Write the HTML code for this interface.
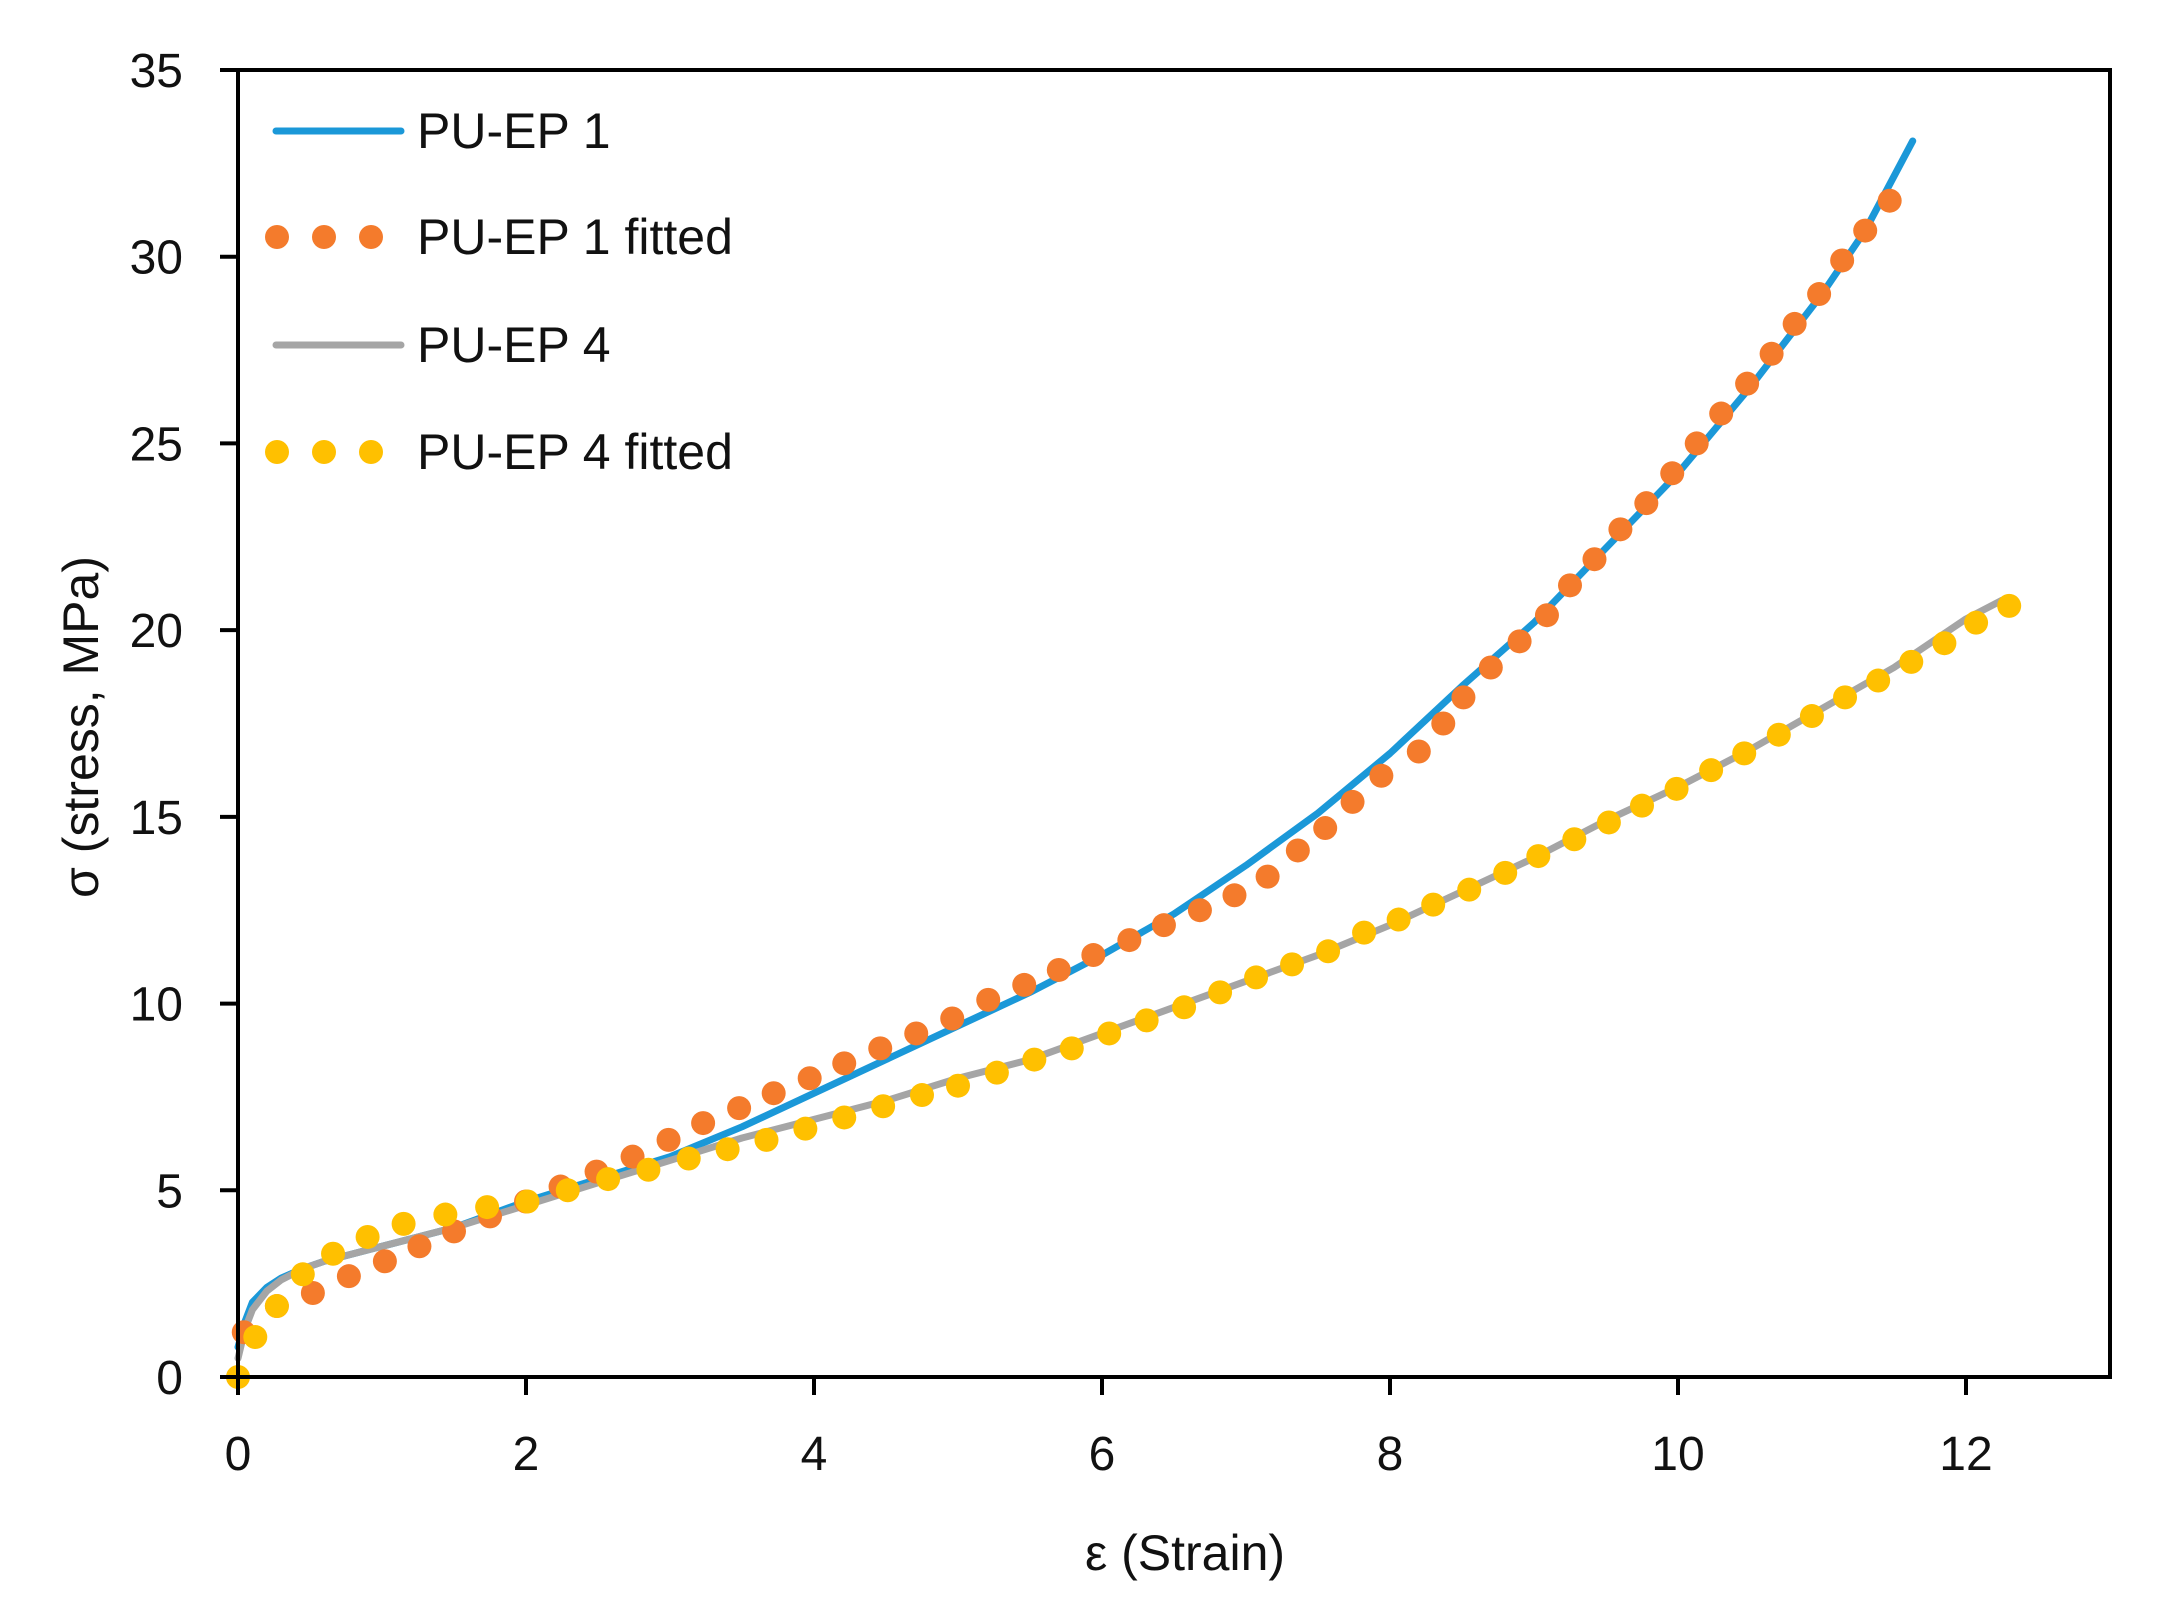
<!DOCTYPE html>
<html><head><meta charset="utf-8"><style>
html,body{margin:0;padding:0;background:#fff}
svg{display:block;font-family:"Liberation Sans","DejaVu Sans",sans-serif}
</style></head><body>
<svg id="chart" width="2164" height="1612" viewBox="0 0 2164 1612" xmlns="http://www.w3.org/2000/svg">
<rect width="2164" height="1612" fill="#fff"/>
<g id="plot"></g>
<g id="axes"></g>
<g id="legend"></g>
</svg>
<script>
const xTicks=[0,2,4,6,8,10,12];
const yTicks=[0,5,10,15,20,25,30,35];
const ep1X=[0,0.05,0.1,0.2,0.3,0.45,0.6,0.8,1,1.5,2,2.5,3,3.5,4,4.5,5,5.5,6,6.5,7,7.5,8,8.5,9,9.5,10,10.5,11,11.3,11.63];
const ep1Y=[0.8,1.5,2.0,2.4,2.65,2.9,3.1,3.3,3.5,4.0,4.7,5.3,5.9,6.7,7.6,8.5,9.4,10.3,11.3,12.4,13.7,15.1,16.7,18.5,20.2,22.2,24.2,26.5,29.0,30.7,33.1];
const ep1fX=[0.04,0.27,0.52,0.77,1.02,1.26,1.5,1.75,2.0,2.24,2.49,2.74,2.99,3.23,3.48,3.72,3.97,4.21,4.46,4.71,4.96,5.21,5.46,5.7,5.94,6.19,6.43,6.68,6.92,7.15,7.36,7.55,7.74,7.94,8.2,8.37,8.51,8.7,8.9,9.09,9.25,9.42,9.6,9.78,9.96,10.13,10.3,10.48,10.65,10.81,10.98,11.14,11.3,11.47];
const ep1fY=[1.2,1.9,2.25,2.7,3.1,3.5,3.9,4.3,4.7,5.1,5.5,5.9,6.35,6.8,7.2,7.6,8.0,8.4,8.8,9.2,9.6,10.1,10.5,10.9,11.3,11.7,12.1,12.5,12.9,13.4,14.1,14.7,15.4,16.1,16.75,17.5,18.2,19.0,19.7,20.4,21.2,21.9,22.7,23.4,24.2,25.0,25.8,26.6,27.4,28.2,29.0,29.9,30.7,31.5];
const ep4X=[0,0.05,0.1,0.2,0.3,0.45,0.6,0.8,1,1.5,2,2.5,3,3.5,4,4.5,5,5.5,6,6.5,7,7.5,8,8.5,9,9.5,10,10.5,11,11.5,12,12.25];
const ep4Y=[0.5,1.3,1.8,2.3,2.6,2.9,3.1,3.3,3.5,4.0,4.6,5.2,5.8,6.4,6.9,7.4,8.0,8.5,9.2,9.9,10.6,11.3,12.1,13.0,13.9,14.9,15.8,16.8,17.9,19.0,20.3,20.8];
const ep4fX=[0,0.12,0.27,0.45,0.66,0.9,1.15,1.44,1.73,2.01,2.29,2.57,2.85,3.13,3.4,3.67,3.94,4.21,4.48,4.75,5.0,5.27,5.53,5.79,6.05,6.31,6.57,6.82,7.07,7.32,7.57,7.82,8.06,8.3,8.55,8.8,9.03,9.28,9.52,9.75,9.99,10.23,10.46,10.7,10.93,11.16,11.39,11.62,11.85,12.07,12.3];
const ep4fY=[0,1.07,1.9,2.75,3.3,3.75,4.1,4.35,4.55,4.7,5.0,5.3,5.55,5.85,6.1,6.35,6.65,6.95,7.25,7.55,7.8,8.15,8.5,8.8,9.2,9.55,9.9,10.3,10.7,11.05,11.4,11.9,12.25,12.65,13.05,13.5,13.95,14.4,14.85,15.3,15.75,16.25,16.7,17.2,17.7,18.2,18.65,19.15,19.65,20.2,20.65];
const legendLabels=["PU-EP 1","PU-EP 1 fitted","PU-EP 4","PU-EP 4 fitted"];

const NS="http://www.w3.org/2000/svg";
const L=238,R=2110,T=70,B=1377,XMAX=13,YMAX=35;
const sx=v=>L+(R-L)*v/XMAX;
const sy=v=>B-(B-T)*v/YMAX;
function mk(tag,attrs,parent){const e=document.createElementNS(NS,tag);for(const k in attrs)e.setAttribute(k,attrs[k]);parent.appendChild(e);return e;}
const plot=document.getElementById('plot'),axes=document.getElementById('axes'),legend=document.getElementById('legend');

function line(xs,ys,color,name){
  const p=mk('polyline',{points:xs.map((x,i)=>sx(x)+','+sy(ys[i])).join(' '),fill:'none',stroke:color,'stroke-width':7,'stroke-linejoin':'round','stroke-linecap':'round'},plot);
  
  
}
function dots(xs,ys,color,name){
  const g=mk('g',{},plot);
  
  
  xs.forEach((x,i)=>{const c=mk('circle',{cx:sx(x),cy:sy(ys[i]),r:12,fill:color},g);
    
    });
}
line(ep1X,ep1Y,'#1b98d8','pu-ep1-line');
line(ep4X,ep4Y,'#a5a5a5','pu-ep4-line');
dots(ep1fX,ep1fY,'#f47b2c','pu-ep1-fitted-dots');
dots(ep4fX,ep4fY,'#ffc000','pu-ep4-fitted-dots');

const fr=mk('rect',{x:L,y:T,width:R-L,height:B-T,fill:'none',stroke:'#000','stroke-width':4},axes);


yTicks.forEach(v=>{
  const t=mk('line',{x1:L-18,x2:L,y1:sy(v),y2:sy(v),stroke:'#000','stroke-width':4},axes);
  
  
  const tx=mk('text',{x:183,y:sy(v)+17,'text-anchor':'end','font-size':48,fill:'#111'},axes);
  tx.textContent=v;
  
  
});
xTicks.forEach(v=>{
  const t=mk('line',{x1:sx(v),x2:sx(v),y1:B,y2:B+18,stroke:'#000','stroke-width':4},axes);
  
  
  const tx=mk('text',{x:sx(v),y:1470,'text-anchor':'middle','font-size':48,fill:'#111'},axes);
  tx.textContent=v;
  
  
});
const xt=mk('text',{x:1185,y:1570,'text-anchor':'middle','font-size':50,fill:'#111'},axes);
xt.textContent='ε (Strain)';


const yt=mk('text',{x:0,y:0,transform:'translate(98,727) rotate(-90)','text-anchor':'middle','font-size':50,fill:'#111'},axes);
yt.textContent='σ (stress, MPa)';



const rowsY=[131,237,345,452];
const kinds=[['line','#1b98d8'],['dot','#f47b2c'],['line','#a5a5a5'],['dot','#ffc000']];
legendLabels.forEach((lab,i)=>{
  const g=mk('g',{},legend);
  
  
  const y=rowsY[i];
  if(kinds[i][0]==='line'){mk('line',{x1:276,x2:401,y1:y,y2:y,stroke:kinds[i][1],'stroke-width':7,'stroke-linecap':'round'},g);}
  else{[277,324,371].forEach(cx=>mk('circle',{cx:cx,cy:y,r:12,fill:kinds[i][1]},g));}
  const t=mk('text',{x:417,y:y+17,'font-size':50,fill:'#111'},g);
  t.textContent=lab;
});
</script>
</body></html>
